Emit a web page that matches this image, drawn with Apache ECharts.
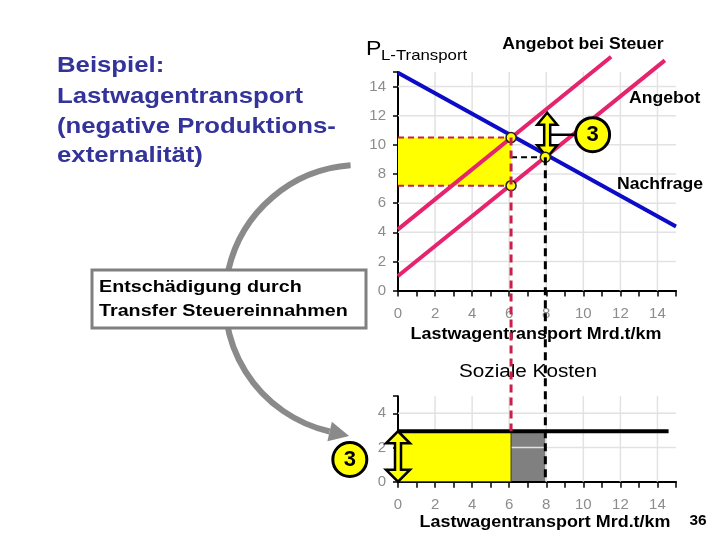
<!DOCTYPE html>
<html>
<head>
    <meta charset="utf-8">
    <title>Lastwagentransport</title>
    <script src="https://cdn.jsdelivr.net/npm/echarts@6/dist/echarts.min.js"></script>
</head>
<body style="margin:0">
    <div id="main" style="width: 720px;height:540px;"></div>
    <script type="text/javascript">
        // Werte
        var demandPts = [[0, 14.95], [15, 4.4]];          // Nachfrage
        var supplyPts = [[0, 1.0], [14.4, 15.8]];         // Angebot
        var taxSupplyPts = [[0, 4.2], [11.5, 16.05]];     // Angebot bei Steuer
        var qTax = 6.1, pBuyer = 10.5, pSeller = 7.2;     // Menge / Preise mit Steuer
        var qEq = 7.95, pEq = 9.15;                       // Gleichgewicht ohne Steuer
        var taxArrow = [[8.05, 9.15, 12.2]];              // Pfeil "3" oben
        var taxLabelTop = [[10.5, 10.7]];
        var socialCost = 2.95, costEnd = 14.6;            // Soziale Kosten
        var costArrow = [[0, 0, 2.95]];
        var taxLabelBottom = [[-2.6, 1.3]];
        var pointsTop = [[6.1, 10.5], [6.1, 7.2], [7.95, 9.15]];
        var gridX = [2, 4, 6, 8, 10, 12, 14];
        var gridYTop = [2, 4, 6, 8, 10, 12, 14];
        var gridYBottom = [2, 4];

        var FONT = 'Liberation Sans, Arial, sans-serif';
        var PINK = '#e6246e', BLUE = '#0b0bc8', RED = '#c8204a', YEL = '#ffff00';

        var myChart = echarts.init(document.getElementById('main'));

        function gridLines(dir) {
            return function (params, api) {
                var cs = params.coordSys;
                if (dir === 'v') {
                    var x = api.coord([api.value(0), 0])[0];
                    return {type: 'line', shape: {x1: x, y1: cs.y, x2: x, y2: cs.y + cs.height},
                        style: {stroke: '#e2e2e2', lineWidth: 1.5}};
                }
                var y = api.coord([0, api.value(1)])[1];
                return {type: 'line', shape: {x1: cs.x, y1: y, x2: cs.x + cs.width, y2: y},
                    style: {stroke: '#e2e2e2', lineWidth: 1.5}};
            };
        }

        function rectItem(fill, stroke, dashedEdges) {
            return function (params, api) {
                var a = api.coord([api.value(0), api.value(3)]);
                var b = api.coord([api.value(2), api.value(1)]);
                var kids = [{type: 'rect', shape: {x: a[0], y: a[1], width: b[0] - a[0], height: b[1] - a[1]},
                    style: {fill: fill, stroke: stroke, lineWidth: stroke ? 1 : 0}}];
                if (dashedEdges) {
                    kids.push({type: 'line', shape: {x1: a[0], y1: a[1], x2: b[0], y2: a[1]},
                        style: {stroke: RED, lineWidth: 2, lineDash: [6, 4]}});
                    kids.push({type: 'line', shape: {x1: a[0], y1: b[1], x2: b[0], y2: b[1]},
                        style: {stroke: RED, lineWidth: 2, lineDash: [6, 4]}});
                }
                return {type: 'group', children: kids};
            };
        }

        function arrowItem(hw) {
            return function (params, api) {
                var t = api.coord([api.value(0), api.value(2)]);
                var b = api.coord([api.value(0), api.value(1)]);
                var x = t[0], y1 = t[1], y2 = b[1], sw = 3, hl = 12;
                return {type: 'polygon', shape: {points: [[x, y1], [x + hw, y1 + hl], [x + sw, y1 + hl],
                    [x + sw, y2 - hl], [x + hw, y2 - hl], [x, y2], [x - hw, y2 - hl], [x - sw, y2 - hl],
                    [x - sw, y1 + hl], [x - hw, y1 + hl]]},
                    style: {fill: YEL, stroke: '#000', lineWidth: 2.5}};
            };
        }

        function xAxisCfg(idx) {
            return {
                gridIndex: idx, type: 'value', min: 0, max: 15, interval: 1,
                axisLine: {lineStyle: {color: '#000', width: 2}},
                axisTick: {show: true, length: 6, lineStyle: {color: '#000', width: 1.5}},
                axisLabel: {
                    color: '#8c8c8c', fontSize: 15, fontFamily: FONT, margin: 16,
                    formatter: function (v) { return (v % 2 === 0 && v < 15) ? String(v) : ''; }
                },
                splitLine: {show: false}
            };
        }

        function yAxisCfg(idx, max) {
            return {
                gridIndex: idx, type: 'value', min: 0, max: max, interval: 2,
                axisLine: {show: true, lineStyle: {color: '#000', width: 2}},
                axisTick: {show: true, length: 5, lineStyle: {color: '#000', width: 1.5}},
                axisLabel: {
                    color: '#8c8c8c', fontSize: 15, fontFamily: FONT, margin: 12,
                    formatter: function (v) { return v < max ? String(v) : ''; }
                },
                splitLine: {show: false}
            };
        }

        function circleLabel(data, xi) {
            return {
                type: 'scatter', xAxisIndex: xi, yAxisIndex: xi, data: data, clip: false,
                symbolSize: 34, z: 8,
                itemStyle: {color: YEL, borderColor: '#000', borderWidth: 3, opacity: 1},
                label: {show: true, position: 'inside', formatter: '3', color: '#000',
                    fontSize: 22, fontWeight: 'bold', fontFamily: FONT}
            };
        }

        var option = {
            animation: false,
            backgroundColor: '#fff',
            grid: [
                {left: 398, top: 72, width: 278, height: 218.6},
                {left: 398, top: 396.2, width: 278, height: 85.5}
            ],
            xAxis: [xAxisCfg(0), xAxisCfg(1)],
            yAxis: [yAxisCfg(0, 15), yAxisCfg(1, 5)],
            series: [
                // oberes Diagramm
                {type: 'custom', xAxisIndex: 0, yAxisIndex: 0, z: 1, renderItem: gridLines('v'),
                    data: gridX.map(function (v) { return [v, 0]; })},
                {type: 'custom', xAxisIndex: 0, yAxisIndex: 0, z: 1, renderItem: gridLines('h'),
                    data: gridYTop.map(function (v) { return [0, v]; })},
                {type: 'custom', xAxisIndex: 0, yAxisIndex: 0, z: 2, renderItem: rectItem(YEL, null, true),
                    data: [[0, pSeller, qTax, pBuyer]]},
                {type: 'line', xAxisIndex: 0, yAxisIndex: 0, data: demandPts, symbol: 'none', z: 3,
                    lineStyle: {color: BLUE, width: 4}},
                {type: 'line', xAxisIndex: 0, yAxisIndex: 0, data: supplyPts, symbol: 'none', clip: false, z: 3,
                    lineStyle: {color: PINK, width: 4}},
                {type: 'line', xAxisIndex: 0, yAxisIndex: 0, data: taxSupplyPts, symbol: 'none', clip: false, z: 3,
                    lineStyle: {color: PINK, width: 4}},
                {type: 'line', xAxisIndex: 0, yAxisIndex: 0, data: [[qTax, pEq], [qEq, pEq]], symbol: 'none', z: 4,
                    lineStyle: {color: '#000', width: 2, type: [6, 4]}},
                {type: 'line', xAxisIndex: 0, yAxisIndex: 0, data: [[taxArrow[0][0], taxLabelTop[0][1]], taxLabelTop[0]],
                    symbol: 'none', z: 5, lineStyle: {color: '#000', width: 2.5}},
                {type: 'custom', xAxisIndex: 0, yAxisIndex: 0, z: 6, renderItem: arrowItem(10), data: taxArrow},
                {type: 'scatter', xAxisIndex: 0, yAxisIndex: 0, data: pointsTop, symbolSize: 10, z: 12,
                    itemStyle: {color: YEL, borderColor: '#222', borderWidth: 1.5, opacity: 1}},
                circleLabel(taxLabelTop, 0),

                // unteres Diagramm
                {type: 'custom', xAxisIndex: 1, yAxisIndex: 1, z: 0, renderItem: rectItem('#808080', null, false),
                    data: [[qTax, 0, qEq, socialCost]]},
                {type: 'custom', xAxisIndex: 1, yAxisIndex: 1, z: 1, renderItem: gridLines('v'),
                    data: gridX.map(function (v) { return [v, 0]; })},
                {type: 'custom', xAxisIndex: 1, yAxisIndex: 1, z: 1, renderItem: gridLines('h'),
                    data: gridYBottom.map(function (v) { return [0, v]; })},
                {type: 'custom', xAxisIndex: 1, yAxisIndex: 1, z: 2, renderItem: rectItem(YEL, '#333', false),
                    data: [[0, 0, qTax, socialCost]]},
                {type: 'line', xAxisIndex: 1, yAxisIndex: 1, data: [[0, socialCost], [costEnd, socialCost]],
                    symbol: 'none', z: 4, lineStyle: {color: '#000', width: 4}},
                {type: 'line', xAxisIndex: 1, yAxisIndex: 1, data: [taxLabelBottom[0], [0, taxLabelBottom[0][1]]],
                    symbol: 'none', clip: false, z: 5, lineStyle: {color: '#000', width: 2.5}},
                {type: 'custom', xAxisIndex: 1, yAxisIndex: 1, z: 6, renderItem: arrowItem(12), data: costArrow},
                circleLabel(taxLabelBottom, 1)
            ]
        };
        myChart.setOption(option);

        function txt(x, y, s, size, weight, color, sx, align, z) {
            return {type: 'text', x: x, y: y, scaleX: sx || 1, z: z || 20,
                style: {text: s, fill: color || '#000', font: (weight || 'bold') + ' ' + size + 'px ' + FONT,
                    align: align || 'left', textAlign: align || 'left',
                    verticalAlign: 'middle', textVerticalAlign: 'middle'}};
        }

        // gestrichelte Linien über beide Diagramme
        var rTop = myChart.convertToPixel({gridIndex: 0}, [qTax, pBuyer]);
        var rBot = myChart.convertToPixel({gridIndex: 1}, [qTax, socialCost]);
        var kTop = myChart.convertToPixel({gridIndex: 0}, [qEq, pEq]);
        var kBot = myChart.convertToPixel({gridIndex: 1}, [qEq, 0]);

        // Bogenpfeil
        var cx = 360, cy = 300, r = 135;
        var a0 = 103 * Math.PI / 180, a1 = 266 * Math.PI / 180;
        var ex = cx + r * Math.cos(a0), ey = cy + r * Math.sin(a0);
        var dx = Math.sin(a0), dy = -Math.cos(a0);
        var head = [[ex + 20 * dx, ey + 20 * dy], [ex - 10 * dy, ey + 10 * dx], [ex + 10 * dy, ey - 10 * dx]];

        var TITLE = '#333399';
        myChart.setOption({
            graphic: [
                {type: 'arc', z: 15, shape: {cx: cx, cy: cy, r: r, startAngle: a0, endAngle: a1, clockwise: true},
                    style: {stroke: '#8a8a8a', lineWidth: 6, fill: 'none'}},
                {type: 'polygon', z: 15, shape: {points: head}, style: {fill: '#8a8a8a'}},
                {type: 'rect', z: 16, shape: {x: 92, y: 270, width: 274, height: 58},
                    style: {fill: '#fff', stroke: '#808080', lineWidth: 3}},
                txt(99, 287, 'Entschädigung durch', 17, 'bold', '#000', 1.16),
                txt(99, 311, 'Transfer Steuereinnahmen', 17, 'bold', '#000', 1.16),

                txt(57, 66, 'Beispiel:', 22, 'bold', TITLE, 1.17),
                txt(57, 97, 'Lastwagentransport', 22, 'bold', TITLE, 1.17),
                txt(57, 127, '(negative Produktions-', 22, 'bold', TITLE, 1.17),
                txt(57, 156, 'externalität)', 22, 'bold', TITLE, 1.17),

                txt(366, 49, 'P', 21, 'normal', '#000', 1.1),
                txt(381, 56, 'L-Transport', 15, 'normal', '#000', 1.12),
                txt(583, 45, 'Angebot bei Steuer', 16, 'bold', '#000', 1.1, 'center'),
                txt(629, 99, 'Angebot', 16, 'bold', '#000', 1.1),
                txt(617, 185, 'Nachfrage', 16, 'bold', '#000', 1.1),
                txt(536, 335, 'Lastwagentransport Mrd.t/km', 16, 'bold', '#000', 1.12, 'center'),
                txt(528, 372, 'Soziale Kosten', 18, 'normal', '#000', 1.15, 'center'),
                txt(545, 523, 'Lastwagentransport Mrd.t/km', 16, 'bold', '#000', 1.12, 'center'),
                txt(698, 521, '36', 14, 'bold', '#000', 1.1, 'center'),

                {type: 'line', z: 30, shape: {x1: rTop[0], y1: rTop[1], x2: rBot[0], y2: rBot[1]},
                    style: {stroke: RED, lineWidth: 3, lineDash: [8, 5]}},
                {type: 'line', z: 30, shape: {x1: kTop[0], y1: kTop[1], x2: kBot[0], y2: kBot[1]},
                    style: {stroke: '#000', lineWidth: 3, lineDash: [8, 5]}}
            ]
        });
    </script>
</body>
</html>
